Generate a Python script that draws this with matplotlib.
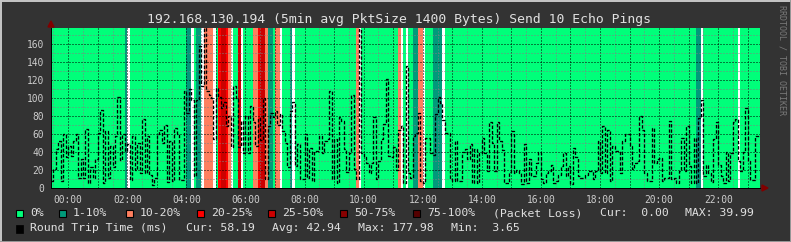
import numpy as np
import matplotlib
matplotlib.use("Agg")
import matplotlib.pyplot as plt
from matplotlib.colors import ListedColormap, BoundaryNorm
from matplotlib.patches import Rectangle, Polygon
from matplotlib.ticker import MultipleLocator, FuncFormatter

plt.rcParams['font.family'] = ['DejaVu Sans Mono']

W, H = 791, 242
title = "192.168.130.194 (5min avg PktSize 1400 Bytes) Send 10 Echo Pings"

# one value every 5 min, first step starts at 23:25 the day before
start_hour = -35 / 60
step_hours = 5 / 60

# round trip time in ms
rtt = [8, 21, 43, 52, 8, 60, 34, 47, 36, 52, 60, 11, 32, 11, 66, 6, 23, 11, 32, 61,
       87, 6, 63, 11, 47, 23, 58, 101, 31, 60, 41, 49, 9, 58, 20, 50, 17, 77, 17, 58,
       15, 3.65, 11, 60, 64, 50, 70, 7,
       52, 8, 67, 60, 9, 9, 108, 83, 110, 98, 13, 98, 158, 113, 177.98, 108, 104, 100, 54, 111,
       101, 89, 96, 69, 80, 46, 113, 100, 46, 74, 39, 80, 39, 91, 73, 47, 78, 53, 100, 10,
       69, 83, 79, 86, 70, 82, 63, 50,
       23, 86, 96, 24, 49, 10, 10, 60, 11, 45, 8, 41, 41, 58, 39, 52, 54, 108, 10, 54,
       6, 79, 74, 43, 18, 39, 104, 21, 10, 177, 39, 34, 28, 17, 28, 79, 10, 30, 54, 71,
       121, 36, 34, 46, 20, 64, 69, 6, 136,
       17, 11, 58, 61, 83, 8, 6, 56, 56, 39, 37, 82, 101, 95, 76, 61, 61, 10, 8, 52,
       8, 8, 40, 43, 32, 49, 6, 43, 6, 39, 56, 39, 19, 73, 50, 19, 73, 52, 42, 6,
       6, 18, 63, 17, 20, 17, 4, 49,
       6, 32, 13, 13, 28, 40, 10, 6, 17, 19, 26, 6, 8, 15, 24, 39, 13, 24, 5, 45,
       34, 13, 11, 11, 15, 19, 19, 10, 19, 52, 17, 69, 17, 65, 8, 47, 41, 41, 17, 52,
       60, 60, 47, 21, 28, 30, 80, 65,
       17, 8, 8, 67, 28, 32, 33, 8, 11, 11, 74, 10, 11, 6, 19, 56, 19, 69, 24, 6,
       56, 6, 78, 98, 13, 26, 17, 7, 54, 73, 26, 13, 6, 40, 8, 39, 73, 77, 30, 19,
       40, 89, 30, 9, 9, 58, 58.19]

# steps that had packet loss (rest is 0%), nan = no loss data
nan = float('nan')
loss_steps = [30, 31, 55, 56, 57, 59, 60, 61, 62, 63, 64, 65, 66, 68, 69, 70, 71, 72, 73,
              76, 77, 82, 83, 84, 85, 86, 87, 88, 89, 91, 92, 93, 97, 98, 124, 125,
              141, 142, 144, 147, 148, 149, 150, 151, 155, 156, 157, 158, 159,
              262, 263, 264, 279]
loss_pct = [5, nan, 5, 5, nan, 5, 5, nan, 15, 15, 15, 15, nan, 22, 35, 39.99, 22, 15, nan,
            35, nan, 15, 15, 22, 35, 35, 15, 5, 5, 15, 15, nan, 5, nan, 15, nan,
            15, nan, nan, 5, 5, 15, 15, nan, 5, 5, 5, 5, nan,
            5, 5, nan, nan]

loss_labels = ["0%", "1-10%", "10-20%", "20-25%", "25-50%", "50-75%", "75-100%"]
loss_bounds = [0, 0.5, 10.5, 20.5, 25.5, 50.5, 75.5, 100.5]
loss_colors = ["#00ff7a", "#009a7a", "#ff7f5f", "#ff0000", "#cc0000", "#880000", "#550000"]

n = len(rtt)
edges = start_hour + step_hours * np.arange(n + 1)
loss = np.zeros(n)
loss[loss_steps] = loss_pct
ymax = max(rtt)

fig = plt.figure(figsize=(W / 100, H / 100), dpi=100, facecolor='#333333')
ax = fig.add_axes([51 / W, 1 - 188 / H, 709 / W, 160 / H])
ax.set_facecolor('white')

cmap = ListedColormap(loss_colors)
norm = BoundaryNorm(loss_bounds, cmap.N)
ax.pcolormesh(edges, [0, ymax], np.ma.masked_invalid(loss)[None, :], cmap=cmap, norm=norm,
              zorder=1)

ax.step(edges, rtt + [rtt[-1]], where='post', color='black', lw=0.95,
        linestyle=(0, (2.6, 1.4)), zorder=3)

ax.set_xlim(edges[0], edges[-1])
ax.set_ylim(0, ymax)

ax.xaxis.set_major_locator(MultipleLocator(1))
ax.xaxis.set_minor_locator(MultipleLocator(0.5))
ax.xaxis.set_major_formatter(FuncFormatter(
    lambda v, p: "%02d:00" % (round(v) % 24) if round(v) % 2 == 0 else ""))
ax.yaxis.set_major_locator(MultipleLocator(20))
ax.yaxis.set_minor_locator(MultipleLocator(10))
ax.yaxis.set_major_formatter(FuncFormatter(lambda v, p: "%d" % v))

ax.set_axisbelow('line')
ax.grid(which='major', color='#000000', linestyle=(0, (1, 2)), lw=0.72)
ax.grid(which='minor', color='#808080', linestyle=(0, (1, 2)), lw=0.72)
ax.tick_params(which='both', length=0, labelsize=6.9, colors='#cccccc')
ax.tick_params(axis='x', pad=5)
ax.tick_params(axis='y', pad=5)
for s in ['top', 'right']:
    ax.spines[s].set_visible(False)
for s in ['left', 'bottom']:
    ax.spines[s].set_color('black')
    ax.spines[s].set_linewidth(0.72)

# overlay in pixel units for title, legend, frame
ov = fig.add_axes([0, 0, 1, 1], facecolor='none')
ov.set_xlim(0, W)
ov.set_ylim(H, 0)
ov.axis('off')

ov.text(399, 19, title, ha='center', va='center', fontsize=9.45, color='#e0e0e0')
ov.text(782, 60, "RRDTOOL / TOBI OETIKER", rotation=270, ha='center', va='center',
        fontsize=6, color='#7a7a7a')

# axis arrows
ov.add_patch(Polygon([[48, 27], [54, 27], [51, 21]], closed=True, color='#800000'))
ov.add_patch(Polygon([[762, 185], [762, 191], [768, 188]], closed=True, color='#800000'))

box_x = [16, 59, 126, 197, 268, 340, 413]
for bx, lab, col in zip(box_x, loss_labels, loss_colors):
    ov.add_patch(Rectangle((bx, 209.5), 7, 7, facecolor=col, edgecolor='black', lw=0.8))
    ov.text(bx + 14, 213, lab, ha='left', va='center', fontsize=8.25, color='#e0e0e0')
ov.text(493, 213, "(Packet Loss)", ha='left', va='center', fontsize=8.25, color='#e0e0e0')
ov.text(600, 213, "Cur:  0.00", ha='left', va='center', fontsize=8.25, color='#e0e0e0')
ov.text(685, 213, "MAX: 39.99", ha='left', va='center', fontsize=8.25, color='#e0e0e0')

ov.add_patch(Rectangle((16, 224.5), 7, 8, facecolor='black', edgecolor='black', lw=0.5))
ov.text(30, 228, "Round Trip Time (ms)", ha='left', va='center', fontsize=8.25, color='#e0e0e0')
ov.text(186, 228, "Cur: 58.19", ha='left', va='center', fontsize=8.25, color='#e0e0e0')
ov.text(272, 228, "Avg: 42.94", ha='left', va='center', fontsize=8.25, color='#e0e0e0')
ov.text(358, 228, "Max: 177.98", ha='left', va='center', fontsize=8.25, color='#e0e0e0')
ov.text(451, 228, "Min:  3.65", ha='left', va='center', fontsize=8.25, color='#e0e0e0')

# frame
ov.plot([0.5, W - 0.5], [0.5, 0.5], color='#c8c8c8', lw=1.4)
ov.plot([0.5, 0.5], [0.5, H - 0.5], color='#c8c8c8', lw=1.4)
ov.plot([0.5, W - 0.5], [H - 0.5, H - 0.5], color='#999999', lw=1.4)
ov.plot([W - 0.5, W - 0.5], [0.5, H - 0.5], color='#999999', lw=1.4)

fig.savefig("out.png", dpi=100, facecolor=fig.get_facecolor())
